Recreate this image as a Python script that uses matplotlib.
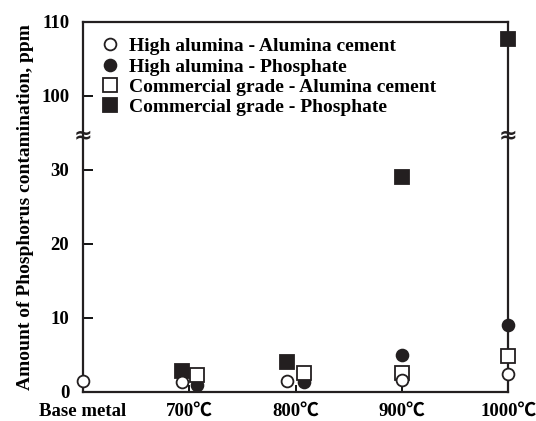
import numpy as np
import matplotlib
matplotlib.use("Agg")
import matplotlib.pyplot as plt

plt.rcParams['font.family'] = ['Liberation Serif', 'Noto Sans CJK JP', 'DejaVu Sans']
plt.rcParams['font.weight'] = 'bold'

# categories on the x axis
categories = ["Base metal", "700\u2103", "800\u2103", "900\u2103", "1000\u2103"]
# small dodge so overlapping markers at one temperature stay visible
dodge = [0.0, 0.07, 0.08, 0.0, 0.0]

# values in ppm
ha_cement = [1.5, 1.4, 1.5, 1.6, 2.4]       # High alumina - Alumina cement
ha_phos = [None, 0.9, 1.3, 5.0, 9.1]        # High alumina - Phosphate
cg_cement = [None, 2.3, 2.5, 2.6, 4.9]      # Commercial grade - Alumina cement
cg_phos = [None, 2.8, 4.1, 29.1, 107.7]     # Commercial grade - Phosphate

yticks = [0, 10, 20, 30, 100, 110]


# broken y axis: 35..95 is squeezed out
def fwd(y):
    y = np.asarray(y, dtype=float)
    return np.where(y <= 35, y, np.where(y >= 95, y - 60, 35))


def inv(t):
    t = np.asarray(t, dtype=float)
    return np.where(t <= 35, t, t + 60)


def series(vals, side):
    xs, ys = [], []
    for i, v in enumerate(vals):
        if v is None:
            continue
        xs.append(i + side * dodge[i])
        ys.append(v)
    return xs, ys


fig = plt.figure(figsize=(5.36, 4.21), dpi=100)
ax = fig.add_axes([0.155, 0.069, 0.793, 0.879])
ax.set_yscale('function', functions=(fwd, inv))

kw = dict(linestyle='none', markeredgecolor='#231f20', markeredgewidth=1.3, clip_on=False)
x, y = series(cg_phos, -1)
ax.plot(x, y, 's', ms=9.5, color='#231f20', label='Commercial grade - Phosphate', zorder=3, **kw)
x, y = series(ha_phos, 1)
ax.plot(x, y, 'o', ms=8.5, color='#231f20', label='High alumina - Phosphate', zorder=3, **kw)
x, y = series(cg_cement, 1)
ax.plot(x, y, 's', ms=9.5, markerfacecolor='white', label='Commercial grade - Alumina cement', zorder=4, **kw)
x, y = series(ha_cement, -1)
ax.plot(x, y, 'o', ms=8.5, markerfacecolor='white', label='High alumina - Alumina cement', zorder=5, **kw)

ax.set_xlim(0, 4)
ax.set_ylim(0, 110)
ax.set_xticks(range(len(categories)))
ax.set_xticklabels(categories, fontsize=13.5, fontweight='bold')
ax.set_yticks(yticks)
ax.set_yticklabels([str(t) for t in yticks], fontsize=13.5, fontweight='bold')
ax.yaxis.set_minor_locator(matplotlib.ticker.NullLocator())
ax.tick_params(axis='y', direction='in', length=7, width=1.3, pad=10, right=False)
ax.tick_params(axis='x', direction='in', length=5, width=1.3, pad=8, top=False)
for s in ax.spines.values():
    s.set_linewidth(1.6)
    s.set_color('#231f20')

ax.set_ylabel('Amount of Phosphorus contamination, ppm', fontsize=14, fontweight='bold', labelpad=5)

# break marks on both vertical spines
for xa in (0, 1):
    ax.text(xa, 34.7, '\u2248', transform=ax.get_yaxis_transform(), ha='center', va='center',
            fontsize=16, fontweight='bold', color='#231f20', family='DejaVu Sans', zorder=6, clip_on=False)

handles, labels = ax.get_legend_handles_labels()
order = [3, 1, 2, 0]
ax.legend([handles[i] for i in order], [labels[i] for i in order], loc='upper left',
          bbox_to_anchor=(0.0, 1.01), frameon=False, handlelength=0.8,
          handletextpad=0.55, labelspacing=0.14, borderaxespad=0.6,
          prop={'weight': 'bold', 'size': 14})

fig.savefig('out.png', dpi=100)
